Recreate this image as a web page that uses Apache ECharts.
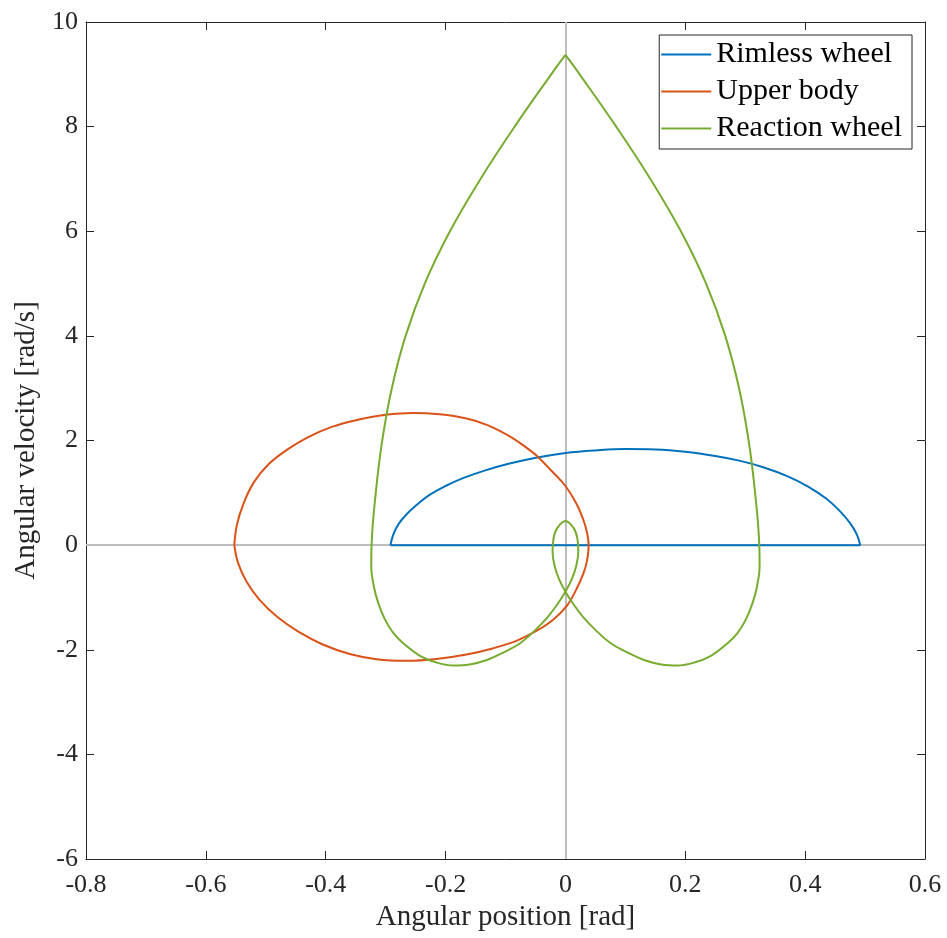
<!DOCTYPE html>
<html>
<head>
<meta charset="utf-8">
<script src="https://cdn.jsdelivr.net/npm/echarts@6/dist/echarts.min.js"></script>
<style>
  html, body { margin: 0; padding: 0; background: #fff; }
  #main { width: 947px; height: 938px; }
</style>
</head>
<body>
<div id="main"></div>
<script>
// phase portrait, values
let seriesNames = ['Rimless wheel', 'Upper body', 'Reaction wheel'];
let colors = ['#0072BD', '#D95319', '#77AC30'];

// rimless wheel: stance arc, then the impact jump back along zero
let rimArc = [
    [-0.292, 0], [-0.287, 0.21], [-0.278, 0.41], [-0.265, 0.59], [-0.248, 0.77],
    [-0.228, 0.95], [-0.2, 1.13], [-0.17, 1.285], [-0.135, 1.425], [-0.095, 1.555],
    [-0.047, 1.675], [0, 1.76], [0.05, 1.81], [0.1, 1.836], [0.15, 1.828],
    [0.2, 1.785], [0.25, 1.705], [0.29, 1.615], [0.33, 1.49], [0.37, 1.32],
    [0.405, 1.12], [0.435, 0.89], [0.458, 0.65], [0.475, 0.42], [0.486, 0.21],
    [0.492, 0]
];
let rimJump = [[0.492, 0], [-0.292, 0]];

let upperBody = [
    [-0.5525, 0], [-0.548, 0.4], [-0.537, 0.8], [-0.52, 1.2], [-0.495, 1.55],
    [-0.465, 1.82], [-0.43, 2.06], [-0.39, 2.26], [-0.345, 2.4], [-0.3, 2.49],
    [-0.255, 2.525], [-0.21, 2.5], [-0.165, 2.42], [-0.13, 2.295], [-0.09, 2.06],
    [-0.06, 1.82], [-0.047, 1.7], [-0.025, 1.44], [0, 1.13], [0.018, 0.8],
    [0.03, 0.48], [0.036, 0.24], [0.0388, 0], [0.036, -0.3], [0.03, -0.54],
    [0.018, -0.85], [0.003, -1.15], [-0.02, -1.42], [-0.047, -1.63], [-0.08, -1.82],
    [-0.12, -1.97], [-0.165, -2.09], [-0.215, -2.175], [-0.265, -2.21], [-0.315, -2.18],
    [-0.36, -2.08], [-0.405, -1.9], [-0.445, -1.66], [-0.48, -1.38], [-0.51, -1.05],
    [-0.532, -0.7], [-0.546, -0.35], [-0.5525, 0]
];

let reactionWheel = [
    [0, 9.37], [0.0237, 9.0], [0.0847, 8.0], [0.1417, 7.0], [0.1927, 6.0],
    [0.2347, 5.0], [0.2667, 4.0], [0.2897, 3.0], [0.3057, 2.0], [0.3165, 1.0],
    [0.3235, 0], [0.324, -0.4], [0.3195, -0.8], [0.3125, -1.1], [0.302, -1.4],
    [0.287, -1.68], [0.265, -1.93], [0.242, -2.12], [0.215, -2.245], [0.187, -2.3],
    [0.16, -2.28], [0.131, -2.195], [0.103, -2.05], [0.075, -1.87], [0.05, -1.62],
    [0.03, -1.38], [0.014, -1.14], [0, -0.89], [-0.011, -0.64], [-0.018, -0.4],
    [-0.0215, -0.12], [-0.02, 0.12], [-0.014, 0.32], [0, 0.46], [0.014, 0.32],
    [0.02, 0.12], [0.0215, -0.12], [0.018, -0.4], [0.011, -0.64], [0, -0.89],
    [-0.014, -1.14], [-0.03, -1.38], [-0.05, -1.62], [-0.075, -1.87], [-0.103, -2.05],
    [-0.131, -2.195], [-0.16, -2.28], [-0.187, -2.3], [-0.215, -2.245], [-0.242, -2.12],
    [-0.265, -1.93], [-0.287, -1.68], [-0.302, -1.4], [-0.3125, -1.1], [-0.3195, -0.8],
    [-0.324, -0.4], [-0.3235, 0], [-0.3165, 1.0], [-0.3057, 2.0], [-0.2897, 3.0],
    [-0.2667, 4.0], [-0.2347, 5.0], [-0.1927, 6.0], [-0.1417, 7.0], [-0.0847, 8.0],
    [-0.0237, 9.0], [0, 9.37]
];

let xMin = -0.8, xMax = 0.6, xStep = 0.2;
let yMin = -6, yMax = 10, yStep = 2;

let font = 'Liberation Serif';
let ink = '#262626';

function curve(name, color, data, smooth) {
    return {
        name: name,
        type: 'line',
        data: data,
        showSymbol: false,
        smooth: smooth,
        lineStyle: { color: color, width: 2 },
        itemStyle: { color: color },
        emphasis: { disabled: true },
        z: 3
    };
}

function axisBase(pos) {
    return {
        axisLine: { show: true, onZero: false, lineStyle: { color: ink, width: 1 } },
        axisTick: { show: true, inside: true, length: 8, lineStyle: { color: ink } },
        splitLine: { show: false },
        position: pos
    };
}

let myChart = echarts.init(document.getElementById('main'));
let option = {
    animation: false,
    backgroundColor: '#fff',
    grid: { left: 86, right: 22, top: 22, bottom: 79 },
    legend: {
        data: seriesNames.map(function (n) { return { name: n, icon: 'rect' }; }),
        orient: 'vertical',
        right: 35,
        top: 35,
        itemWidth: 50,
        itemHeight: 2,
        itemGap: 0,
        padding: [1, 10, 2, 2],
        backgroundColor: '#fff',
        borderColor: ink,
        borderWidth: 1,
        selectedMode: false,
        textStyle: { fontFamily: font, fontSize: 30, color: '#000', lineHeight: 37, padding: [0, 0, 0, 0] }
    },
    xAxis: [
        Object.assign(axisBase('bottom'), {
            type: 'value', min: xMin, max: xMax, interval: xStep,
            name: 'Angular position [rad]',
            nameLocation: 'middle',
            nameGap: 44,
            nameTextStyle: { fontFamily: font, fontSize: 29, color: ink },
            axisLabel: { fontFamily: font, fontSize: 26, color: ink, margin: 13 }
        }),
        Object.assign(axisBase('top'), {
            type: 'value', min: xMin, max: xMax, interval: xStep,
            axisLabel: { show: false }
        })
    ],
    yAxis: [
        Object.assign(axisBase('left'), {
            type: 'value', min: yMin, max: yMax, interval: yStep,
            name: 'Angular velocity [rad/s]',
            nameLocation: 'middle',
            nameGap: 42,
            nameTextStyle: { fontFamily: font, fontSize: 29, color: ink },
            axisLabel: { fontFamily: font, fontSize: 26, color: ink, margin: 8 }
        }),
        Object.assign(axisBase('right'), {
            type: 'value', min: yMin, max: yMax, interval: yStep,
            axisLabel: { show: false }
        })
    ],
    series: [
        {
            name: 'zero',
            type: 'line',
            data: [],
            z: 1,
            silent: true,
            markLine: {
                silent: true,
                z: 1,
                symbol: 'none',
                label: { show: false },
                lineStyle: { color: '#bdbdbd', width: 2, type: 'solid' },
                data: [{ xAxis: 0 }, { yAxis: 0 }]
            }
        },
        curve(seriesNames[0], colors[0], rimArc, 0.4),
        curve(seriesNames[0], colors[0], rimJump, false),
        curve(seriesNames[1], colors[1], upperBody, 0.4),
        curve(seriesNames[2], colors[2], reactionWheel, 0.4)
    ]
};
myChart.setOption(option);
</script>
</body>
</html>
